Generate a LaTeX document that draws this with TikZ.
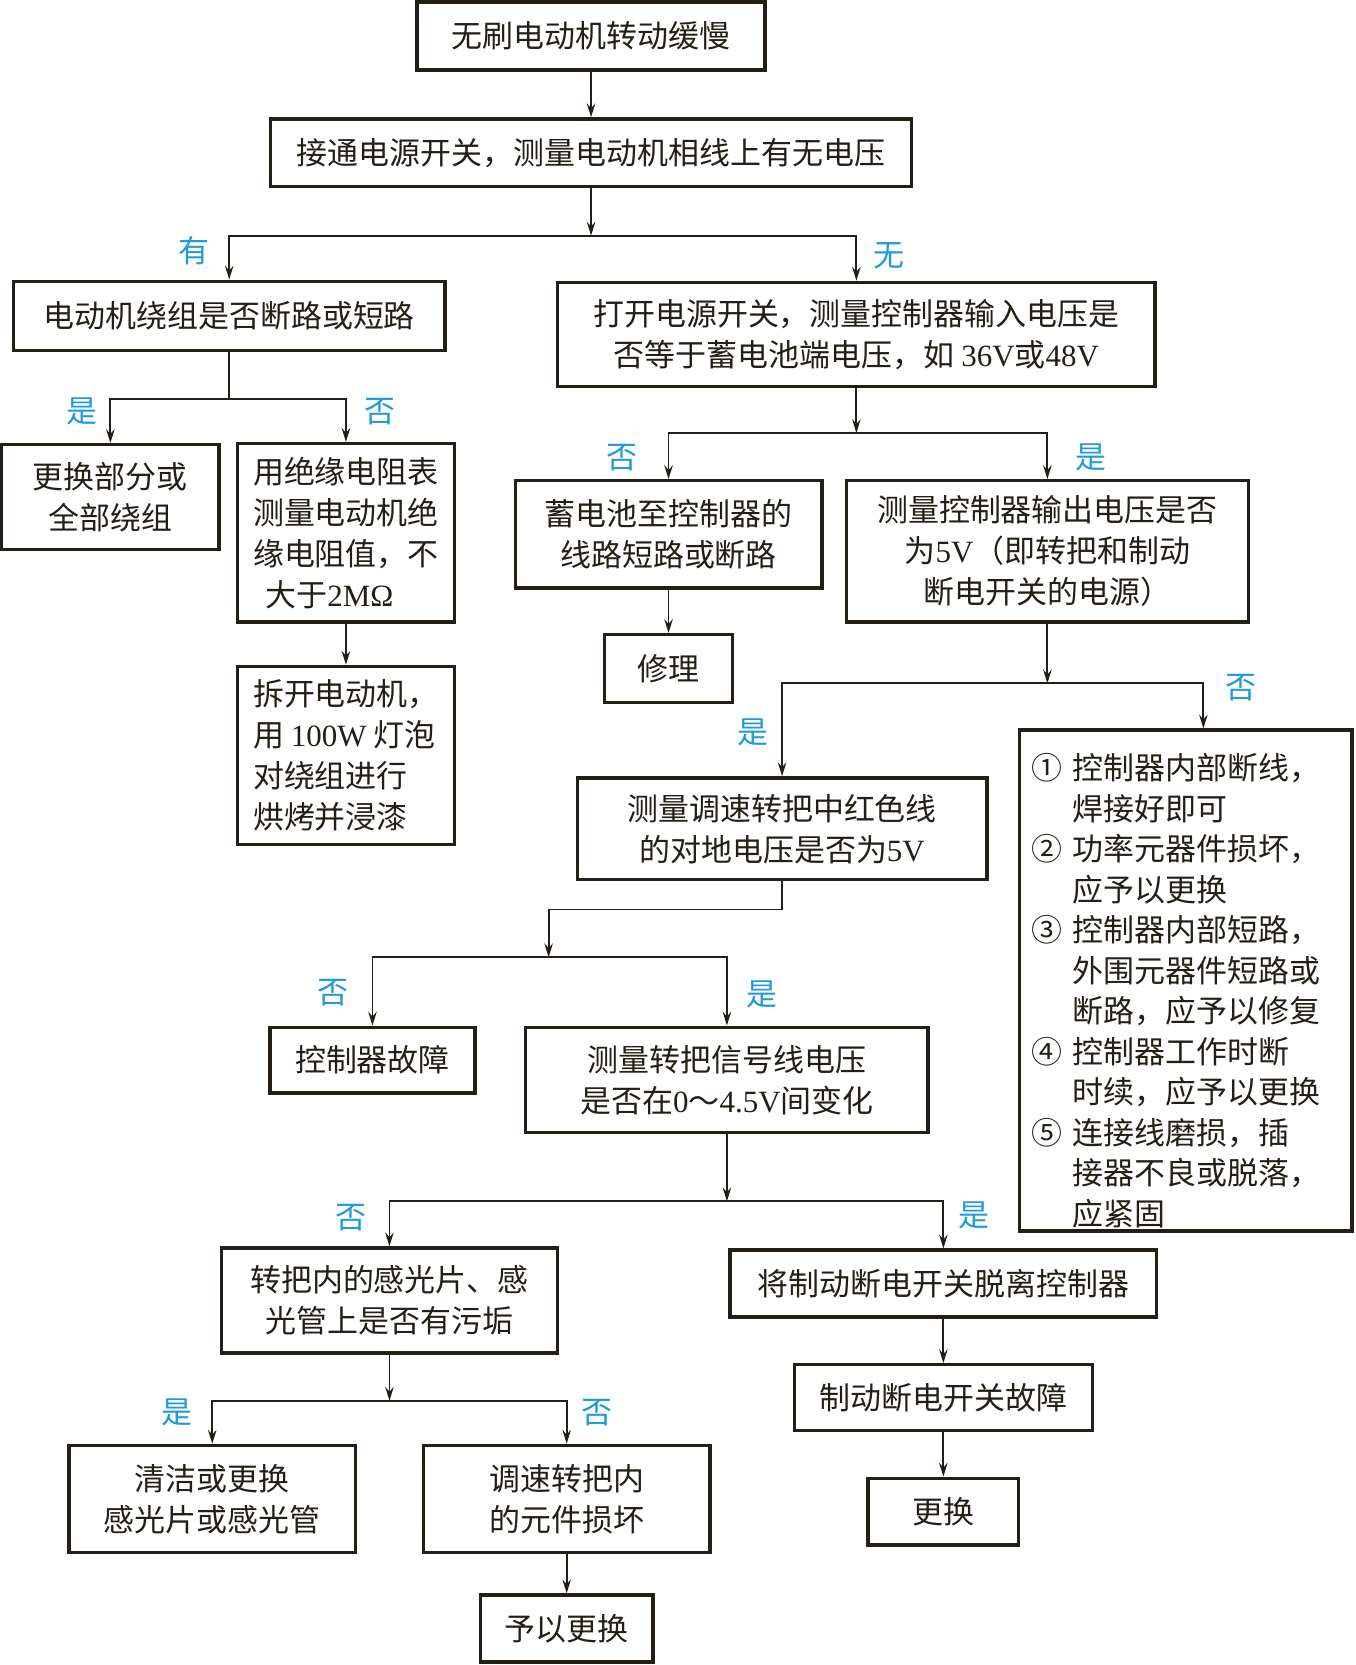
\documentclass[tikz,border=0pt]{standalone}
\usepackage{fontspec}
\setmainfont{Liberation Serif}
\newfontfamily\cjk{Noto Sans CJK SC}
\usetikzlibrary{arrows.meta}
\definecolor{inkdark}{RGB}{35,30,22}
\definecolor{tagblue}{RGB}{32,155,215}
\newcommand{\latn}[1]{{\rmfamily #1}}
\tikzset{
  box/.style={draw=inkdark, line width=0.9pt, text=inkdark, inner sep=0pt,
    align=center, font=\cjk\fontsize{8.3}{11}\selectfont},
  wh/.style 2 args={minimum width=#1cm, minimum height=#2cm},
  tag/.style={text=tagblue, inner sep=0pt, font=\cjk\fontsize{8.3}{10}\selectfont},
}
\begin{document}
\begin{tikzpicture}[x=1cm,y=-1cm]
      \useasboundingbox (0,0) rectangle (12.77,15.69);
      \path
        (5.57,0.34) node[box,wh={3.28}{0.64}] (slow){无刷电动机转动缓慢}
        (5.57,1.44) node[box,wh={6.04}{0.64}] (phase){接通电源开关，测量电动机相线上有无电压}
        (2.16,2.975) node[box,wh={4.07}{0.65}] (winding){电动机绕组是否断路或短路}
        (8.07,3.15) node[box,wh={5.63}{0.98}] (input){打开电源开关，测量控制器输入电压是\\否等于蓄电池端电压，如 \latn{36V}或\latn{48V}}
        (1.04,4.685) node[box,wh={2.05}{0.99}] (rewind){更换部分或\\全部绕组}
        (3.26,5.02) node[box,wh={2.04}{1.68},align=left] (insul){用绝缘电阻表\\测量电动机绝\\缘电阻值，不\\\hspace{0.4em}大于\latn{2MΩ}}
        (3.26,7.12) node[box,wh={2.04}{1.68},align=left] (bake){拆开电动机，\\用 \latn{100W} 灯泡\\对绕组进行\\烘烤并浸漆}
        (6.30,5.035) node[box,wh={2.89}{1.01}] (batline){蓄电池至控制器的\\线路短路或断路}
        (9.87,5.195) node[box,wh={3.79}{1.33}] (output){测量控制器输出电压是否\\为\latn{5V}（即转把和制动\\断电开关的电源）}
        (6.30,6.30) node[box,wh={1.21}{0.64}] (repair){修理}
        (7.37,7.81) node[box,wh={3.86}{0.96}] (redwire){测量调速转把中红色线\\的对地电压是否为\latn{5V}}
        (11.175,9.24) node[box,font=\cjk\fontsize{8.3}{10.85}\selectfont,text width=2.91cm,inner xsep=0.11cm,minimum height=4.72cm,align=left] (faults){\rule{0pt}{0.44cm}①\ 控制器内部断线，\\\hphantom{①\ }焊接好即可\\②\ 功率元器件损坏，\\\hphantom{②\ }应予以更换\\③\ 控制器内部短路，\\\hphantom{③\ }外围元器件短路或\\\hphantom{③\ }断路，应予以修复\\④\ 控制器工作时断\\\hphantom{④\ }时续，应予以更换\\⑤\ 连接线磨损，插\\\hphantom{⑤\ }接器不良或脱落，\\\hphantom{⑤\ }应紧固}
        (3.51,9.99) node[box,wh={1.93}{0.62}] (ctrlfault){控制器故障}
        (6.85,10.175) node[box,wh={3.79}{0.99}] (signal){测量转把信号线电压\\是否在\latn{0}～\latn{4.5V}间变化}
        (3.67,12.255) node[box,wh={3.17}{0.99}] (sensor){转把内的感光片、感\\光管上是否有污垢}
        (8.89,12.095) node[box,wh={4.02}{0.63}] (brake){将制动断电开关脱离控制器}
        (2.00,14.125) node[box,wh={2.70}{1.01}] (clean){清洁或更换\\感光片或感光管}
        (5.34,14.125) node[box,wh={2.70}{1.01}] (handle){调速转把内\\的元件损坏}
        (5.34,15.345) node[box,wh={1.63}{0.63}] (renew){予以更换}
        (8.89,13.17) node[box,wh={2.81}{0.62}] (brakefault){制动断电开关故障}
        (8.89,14.245) node[box,wh={1.42}{0.63}] (replace){更换};
      % branch points
      \coordinate (s1) at (5.57,2.22);
      \coordinate (s2) at (2.16,3.76);
      \coordinate (s3) at (8.07,4.08);
      \coordinate (s4) at (9.87,6.44);
      \coordinate (k1) at (5.17,8.57);
      \coordinate (s6) at (5.17,9.02);
      \coordinate (s7) at (6.85,11.32);
      \coordinate (s8) at (3.67,13.20);
      \path
        (1.83,2.36) node[tag] (tHas){有}
        (8.38,2.41) node[tag] (tNone){无}
        (0.77,3.88) node[tag] (tYesA){是}
        (3.58,3.88) node[tag] (tNoA){否}
        (5.86,4.31) node[tag] (tNoB){否}
        (10.28,4.31) node[tag] (tYesB){是}
        (7.10,6.90) node[tag] (tYesC){是}
        (11.69,6.48) node[tag] (tNoC){否}
        (3.14,9.35) node[tag] (tNoD){否}
        (7.18,9.37) node[tag] (tYesD){是}
        (3.31,11.47) node[tag] (tNoE){否}
        (9.18,11.45) node[tag] (tYesE){是}
        (1.67,13.31) node[tag] (tYesF){是}
        (5.63,13.31) node[tag] (tNoF){否};
      \begin{scope}[draw=inkdark, line width=0.5pt, -{Stealth[length=1.3mm,width=0.8mm,inset=0.45mm]}]
        \draw (slow) to (phase);
        \draw (phase) to (s1);
        \draw (s1) -| (winding.north);
        \draw (s1) -| (input.north);
        \draw[-] (winding) to (s2);
        \draw (s2) -| (rewind.north);
        \draw (s2) -| (insul.north);
        \draw (insul) to (bake);
        \draw (input) to (s3);
        \draw (s3) -| (batline.north);
        \draw (s3) -| (output.north);
        \draw (batline) to (repair);
        \draw (output) to (s4);
        \draw (s4) -| (redwire.north);
        \draw (s4) -| ([xshift=1.65mm]faults.north);
        \draw (redwire.south) |- (k1) -- (s6);
        \draw (s6) -| (ctrlfault.north);
        \draw (s6) -| (signal.north);
        \draw (signal) to (s7);
        \draw (s7) -| (sensor.north);
        \draw (s7) -| (brake.north);
        \draw (sensor) to (s8);
        \draw (s8) -| (clean.north);
        \draw (s8) -| (handle.north);
        \draw (handle) to (renew);
        \draw (brake) to (brakefault);
        \draw (brakefault) to (replace);
      \end{scope}
    \end{tikzpicture}
\end{document}
